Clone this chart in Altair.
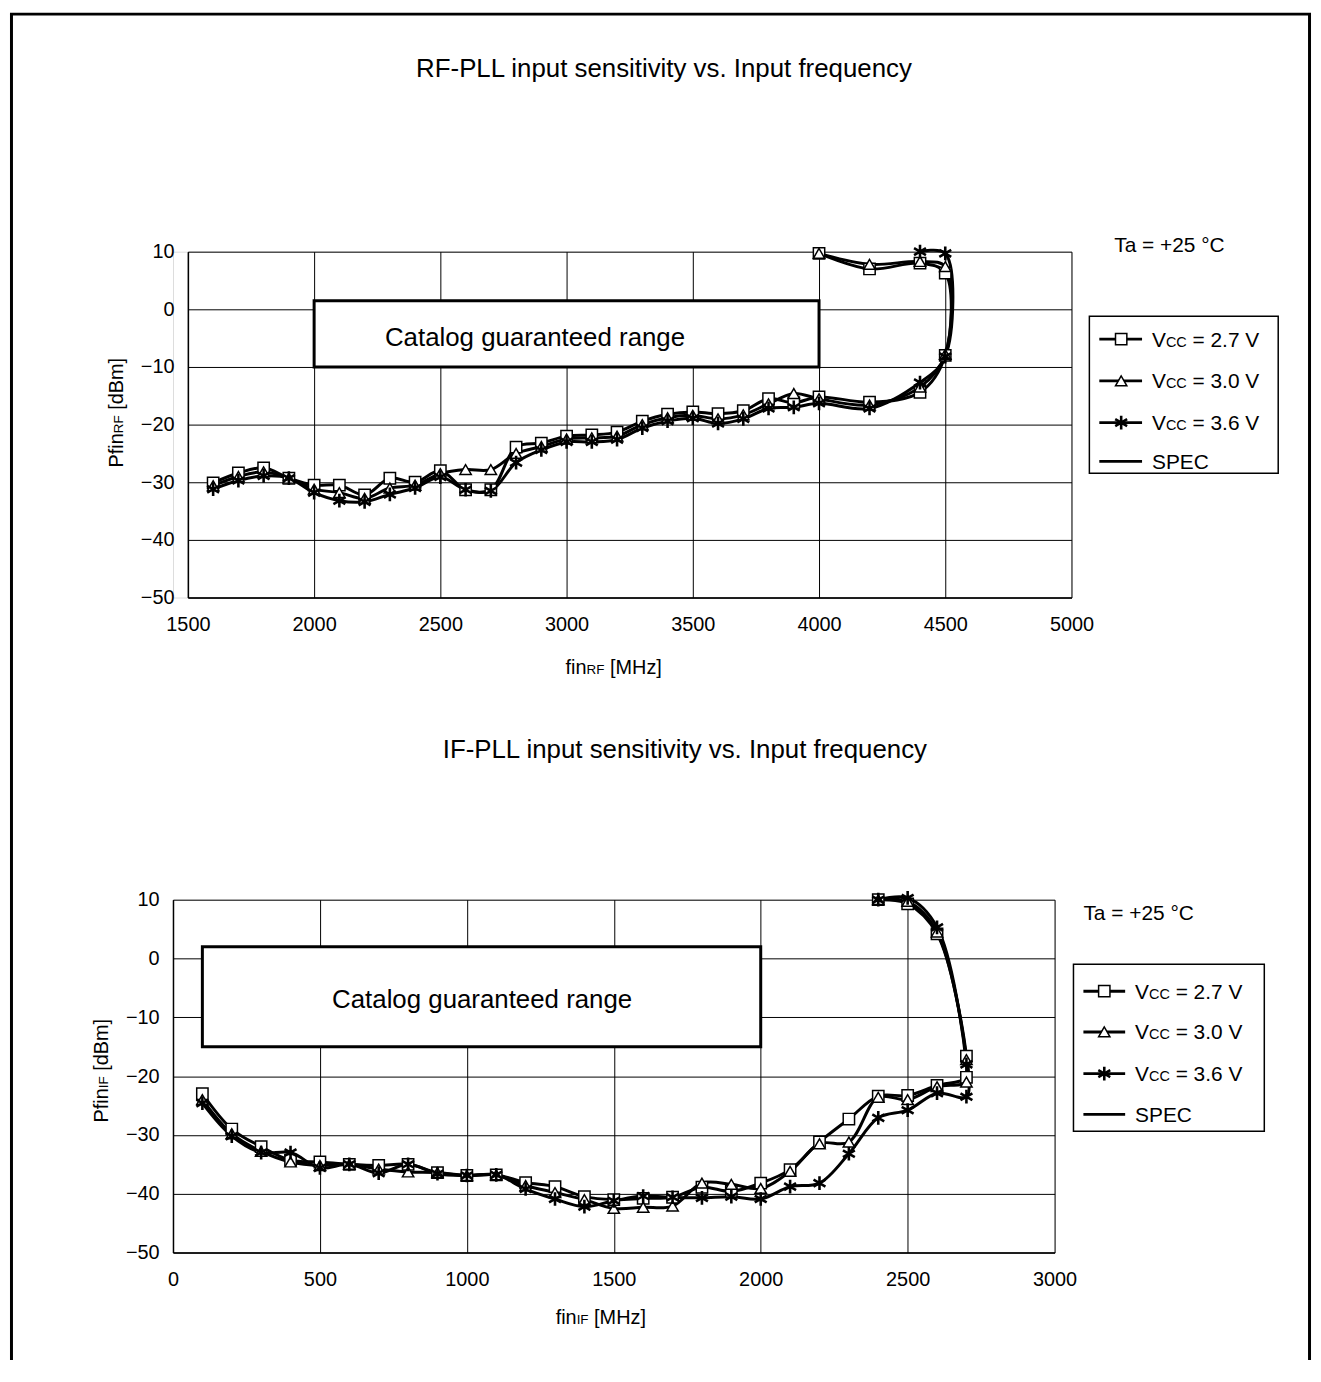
import altair as alt
import pandas as pd

FONT = "Liberation Sans"

# ---------------- RF-PLL (top) ----------------
rf_freq = [1600, 1700, 1800, 1900, 2000, 2100, 2200, 2300, 2400, 2500, 2600, 2700, 2800, 2900,
           3000, 3100, 3200, 3300, 3400, 3500, 3600, 3700, 3800, 3900, 4000, 4200, 4400, 4500]
rf_v27 = [-30.1, -28.4, -27.5, -29.3, -30.5, -30.5, -32.2, -29.3, -30.0, -28.0, -31.3, -31.3, -23.9, -23.2,
          -22.0, -21.8, -21.3, -19.4, -18.2, -17.8, -18.1, -17.6, -15.5, -16.2, -15.2, -16.1, -14.4, -8.0]
rf_v30 = [-30.6, -29.0, -28.2, -29.3, -31.2, -31.8, -32.8, -31.0, -30.5, -28.5, -27.8, -27.8, -25.0, -23.8,
          -22.5, -22.3, -22.0, -20.0, -18.8, -18.4, -19.0, -18.3, -16.4, -14.6, -15.5, -16.6, -13.5, -7.8]
rf_v36 = [-31.2, -29.7, -28.9, -29.3, -31.8, -33.2, -33.4, -32.1, -31.0, -29.1, -31.3, -31.5, -26.6, -24.4,
          -23.0, -23.0, -22.6, -20.6, -19.4, -18.9, -19.8, -19.0, -17.2, -17.0, -16.3, -17.2, -12.7, -8.2]
rf_up_freq_v27 = [4500, 4400, 4200, 4000]
rf_up_v27 = [6.3, 8.0, 7.0, 9.7]
rf_up_freq_v30 = [4500, 4400, 4200, 4000]
rf_up_v30 = [7.4, 8.3, 7.8, 9.7]
rf_up_freq_v36 = [4500, 4400]
rf_up_v36 = [9.7, 10.0]
rf_spec_freq = [2000, 4000]
rf_spec_dbm = [-10, 1.5]
rf_xticks = [1500, 2000, 2500, 3000, 3500, 4000, 4500, 5000]

# ---------------- IF-PLL (bottom) ----------------
if_freq = [100, 200, 300, 400, 500, 600, 700, 800, 900, 1000, 1100, 1200, 1300, 1400, 1500, 1600,
           1700, 1800, 1900, 2000, 2100, 2200, 2300, 2400, 2500, 2600, 2700]
if_v27 = [-23.0, -29.0, -32.0, -34.3, -34.6, -35.0, -35.2, -35.0, -36.4, -36.9, -36.8, -38.1, -38.8, -40.5,
          -41.0, -40.8, -40.6, -38.9, -39.6, -38.2, -35.9, -31.2, -27.3, -23.4, -23.3, -21.6, -20.2]
if_v30 = [-24.0, -29.8, -32.8, -34.6, -35.2, -35.0, -35.8, -36.3, -36.4, -36.9, -36.8, -38.6, -39.8, -41.0,
          -42.5, -42.3, -42.1, -38.2, -38.4, -39.1, -36.2, -31.5, -31.2, -23.6, -24.0, -21.8, -21.0]
if_v36 = [-24.6, -30.2, -33.0, -33.0, -35.6, -35.0, -36.5, -35.0, -36.6, -36.9, -36.8, -39.2, -40.9, -42.2,
          -41.2, -40.4, -40.6, -40.7, -40.5, -40.9, -38.8, -38.2, -33.2, -27.1, -25.8, -22.9, -23.5]
if_up_freq = [2700, 2600, 2500, 2400]
if_up_v27 = [-16.6, 4.2, 9.3, 10.0]
if_up_v30 = [-17.2, 4.5, 9.7, 10.0]
if_up_v36 = [-18.0, 5.3, 10.3, 10.0]
if_spec_freq = [100, 2000]
if_spec_dbm = [-15, 2]
if_xticks = [0, 500, 1000, 1500, 2000, 2500, 3000]

y_ticks = [-50, -40, -30, -20, -10, 0, 10]
vcc_labels = ["2.7", "3.0", "3.6"]
series_keys = ["v27", "v30", "v36"]

ASTERISK = "M0,-1L0,1M-0.87,-0.5L0.87,0.5M-0.87,0.5L0.87,-0.5"
SHAPES = {"v27": "square", "v30": "triangle-up", "v36": ASTERISK}

# Arial/Liberation Sans advance widths (per 1000 em)
W = {"P": 667, "f": 278, "i": 222, "n": 556, "R": 722, "F": 611, "I": 278, " ": 278, "[": 278, "]": 278,
     "d": 556, "B": 667, "m": 833, "M": 833, "H": 722, "z": 500, "V": 667, "C": 722, "=": 584,
     ".": 278, "S": 667, "E": 667}


def tw(s, size):
    return sum(W.get(c, 556) for c in s) / 1000.0 * size


def build_df(low_f, lows, ups):
    rows = []
    for key, lv, (uf, uv) in zip(series_keys, lows, ups):
        o = 0
        for f, p in zip(low_f, lv):
            rows.append({"s": key, "f": f, "p": p, "o": o})
            o += 1
        for f, p in zip(uf, uv):
            rows.append({"s": key, "f": f, "p": p, "o": o})
            o += 1
    return pd.DataFrame(rows)


one = pd.DataFrame({"k": [0]})


def txt(text, x, y, size, align="left", baseline="alphabetic", angle=0):
    kw = dict(text=text, font=FONT, fontSize=size, color="black", align=align, baseline=baseline)
    if angle:
        kw["angle"] = angle
    return alt.Chart(one).mark_text(**kw).encode(x=alt.value(x), y=alt.value(y))


def marker(data, key):
    if key == "v36":
        return alt.Chart(data).mark_point(shape=SHAPES[key], filled=False, stroke="black", strokeWidth=2.6,
                                          size=190, opacity=1)
    return alt.Chart(data).mark_point(shape=SHAPES[key], filled=True, fill="white", stroke="black",
                                      strokeWidth=1.5, size=130, opacity=1)


def panel(df, spec_f, spec_p, xdom, xticks, xrange, width, height, yoff, cat_pos,
          title, title_x, title_y, ta_x, ta_y, leg, ytitle, xtitle, frame=None):
    ax_x = alt.Axis(values=xticks, title=None, format="d", grid=True, gridColor="black", gridOpacity=1,
                    gridWidth=1, domainColor="black", domainWidth=1.5, ticks=False, tickSize=0,
                    labelFont=FONT, labelFontSize=20, labelColor="black", labelPadding=17,
                    labelFlush=False, labelOverlap=False)
    ykw = dict(values=y_ticks, title=None, format="d", grid=True, gridColor="black", gridOpacity=1,
               gridWidth=1, domainColor="black", domainWidth=1.5, ticks=False, tickSize=0,
               labelFont=FONT, labelFontSize=20, labelColor="black", labelPadding=14,
               labelFlush=False, labelOverlap=False)
    if yoff:
        ykw["offset"] = yoff
    ax_y = alt.Axis(**ykw)
    X = alt.X("f:Q", scale=alt.Scale(domain=xdom, range=xrange, nice=False, zero=False), axis=ax_x)
    Y = alt.Y("p:Q", scale=alt.Scale(domain=[-50, 10], nice=False, zero=False), axis=ax_y)

    layers = []
    spec_df = pd.DataFrame({"f": [spec_f[0]], "f2": [spec_f[1]], "p": [spec_p[0]], "p2": [spec_p[1]]})
    layers.append(alt.Chart(spec_df).mark_rect(fill="white", stroke="black", strokeWidth=3).encode(
        x=X, x2="f2:Q", y=Y, y2="p2:Q"))
    layers.append(alt.Chart(one).mark_text(text="Catalog guaranteed range", font=FONT, fontSize=26,
                                           color="black", align="center", baseline="middle").encode(
        x=alt.datum(cat_pos[0]), y=alt.datum(cat_pos[1])))
    layers.append(alt.Chart(df).mark_line(interpolate="catmull-rom", color="black", strokeWidth=3).encode(
        x=X, y=Y, detail="s:N", order="o:Q"))
    for key in series_keys:
        layers.append(marker(df, key).encode(x=X, y=Y).transform_filter(alt.datum.s == key))

    # titles / annotations
    layers.append(txt(title, title_x, title_y, 26, align="center"))
    layers.append(txt("Ta = +25 \u00b0C", ta_x, ta_y, 21))

    # legend
    bx1, bx2, by1, by2, ly, lx1, lx2, mx, tx = leg
    layers.append(alt.Chart(one).mark_rect(fill="white", stroke="black", strokeWidth=1.5).encode(
        x=alt.value(bx1), x2=alt.value(bx2), y=alt.value(by1), y2=alt.value(by2)))
    for i, key in enumerate(series_keys):
        yy = ly[i]
        layers.append(alt.Chart(one).mark_rule(color="black", strokeWidth=3).encode(
            x=alt.value(lx1), x2=alt.value(lx2), y=alt.value(yy)))
        layers.append(marker(one, key).encode(x=alt.value(mx), y=alt.value(yy)))
        base = yy + 7.5
        layers.append(txt("V", tx, base, 21))
        layers.append(txt("CC", tx + tw("V", 21), base, 14.5))
        layers.append(txt("= " + vcc_labels[i] + " V", tx + tw("V", 21) + tw("CC", 14.5) + tw(" ", 21), base, 21))
    layers.append(alt.Chart(one).mark_rule(color="black", strokeWidth=3).encode(
        x=alt.value(lx1), x2=alt.value(lx2), y=alt.value(ly[3])))
    layers.append(txt("SPEC", tx, ly[3] + 7.5, 21))

    # axis titles with small-caps subscript
    yx, ycy, ysub = ytitle
    total = tw("Pfin", 20) + tw(ysub, 13.5) + tw(" ", 20) + tw("[dBm]", 20)
    y0 = ycy + total / 2
    layers.append(txt("Pfin", yx, y0, 20, angle=270))
    layers.append(txt(ysub, yx, y0 - tw("Pfin", 20), 13.5, angle=270))
    layers.append(txt("[dBm]", yx, y0 - tw("Pfin", 20) - tw(ysub, 13.5) - tw(" ", 20), 20, angle=270))
    xx, xy, xsub = xtitle
    layers.append(txt("fin", xx, xy, 20))
    layers.append(txt(xsub, xx + tw("fin", 20), xy, 13.5))
    layers.append(txt("[MHz]", xx + tw("fin", 20) + tw(xsub, 13.5) + tw(" ", 20), xy, 20))

    # outer frame (left, right, top) spanning the whole figure
    if frame:
        fl, fr, ft, fb = frame
        layers.append(alt.Chart(one).mark_rule(color="black", strokeWidth=3).encode(
            x=alt.value(fl), y=alt.value(ft), y2=alt.value(fb)))
        layers.append(alt.Chart(one).mark_rule(color="black", strokeWidth=3).encode(
            x=alt.value(fr), y=alt.value(ft), y2=alt.value(fb)))
        layers.append(alt.Chart(one).mark_rule(color="black", strokeWidth=3).encode(
            x=alt.value(fl - 1.5), x2=alt.value(fr + 1.5), y=alt.value(ft)))

    return alt.layer(*layers).properties(width=width, height=height)


rf_df = build_df(rf_freq, [rf_v27, rf_v30, rf_v36],
                 [(rf_up_freq_v27, rf_up_v27), (rf_up_freq_v30, rf_up_v30), (rf_up_freq_v36, rf_up_v36)])
if_df = build_df(if_freq, [if_v27, if_v30, if_v36],
                 [(if_up_freq, if_up_v27), (if_up_freq, if_up_v30), (if_up_freq, if_up_v36)])

top = panel(
    rf_df, rf_spec_freq, rf_spec_dbm, [1500, 5000], rf_xticks, [15, 904], 904, 348, -15, (2875, -5.0),
    "RF-PLL input sensitivity vs. Input frequency", 494, -176, 947, 0,
    (922, 1112, 65, 223, [88, 130, 172, 211], 932, 975, 954, 985),
    (-50, 162, "RF"), (395, 425, "RF"),
    frame=(-162.5, 1143.5, -239, 1115))

bottom = panel(
    if_df, if_spec_freq, if_spec_dbm, [0, 3000], if_xticks, [0, 887], 887, 355, 0, (1052, -7.1),
    "IF-PLL input sensitivity vs. Input frequency", 515, -143, 916, 20,
    (906, 1098, 65, 233, [92, 133, 175, 216], 916, 958, 937, 968),
    (-65, 172, "IF"), (385, 427, "IF"))

chart = alt.vconcat(top, bottom, spacing=304, bounds="flush").properties(padding=0).configure_view(
    strokeWidth=0).configure(font=FONT)

chart.save("out.html", embed_options={"renderer": "svg", "actions": False})
